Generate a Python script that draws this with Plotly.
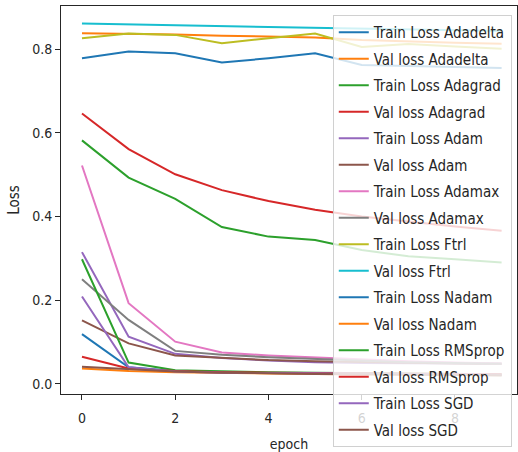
import plotly.graph_objects as go

epochs = list(range(10))

names = [
    "Train Loss Adadelta", "Val loss Adadelta",
    "Train Loss Adagrad", "Val loss Adagrad",
    "Train Loss Adam", "Val loss Adam",
    "Train Loss Adamax", "Val loss Adamax",
    "Train Loss Ftrl", "Val loss Ftrl",
    "Train Loss Nadam", "Val loss Nadam",
    "Train Loss RMSprop", "Val loss RMSprop",
    "Train Loss SGD", "Val loss SGD",
]

train_adadelta = [0.778, 0.794, 0.790, 0.768, 0.778, 0.790, 0.762, 0.760, 0.758, 0.755]
val_adadelta = [0.838, 0.837, 0.835, 0.832, 0.830, 0.828, 0.822, 0.818, 0.815, 0.813]
train_adagrad = [0.582, 0.493, 0.442, 0.375, 0.352, 0.344, 0.320, 0.305, 0.298, 0.290]
val_adagrad = [0.646, 0.561, 0.501, 0.463, 0.437, 0.416, 0.400, 0.388, 0.376, 0.366]
train_adam = [0.315, 0.113, 0.072, 0.062, 0.056, 0.052, 0.050, 0.049, 0.048, 0.048]
val_adam = [0.152, 0.097, 0.068, 0.062, 0.057, 0.054, 0.052, 0.050, 0.049, 0.048]
train_adamax = [0.522, 0.193, 0.101, 0.075, 0.068, 0.063, 0.058, 0.054, 0.051, 0.049]
val_adamax = [0.250, 0.153, 0.079, 0.070, 0.064, 0.060, 0.055, 0.052, 0.050, 0.048]
train_ftrl = [0.826, 0.837, 0.834, 0.814, 0.826, 0.837, 0.805, 0.812, 0.806, 0.801]
val_ftrl = [0.861, 0.859, 0.857, 0.855, 0.853, 0.851, 0.849, 0.847, 0.845, 0.843]
train_nadam = [0.119, 0.040, 0.031, 0.028, 0.026, 0.025, 0.024, 0.023, 0.022, 0.021]
val_nadam = [0.037, 0.031, 0.028, 0.026, 0.025, 0.024, 0.023, 0.022, 0.022, 0.021]
train_rmsprop = [0.298, 0.051, 0.033, 0.030, 0.028, 0.027, 0.026, 0.025, 0.024, 0.023]
val_rmsprop = [0.065, 0.037, 0.031, 0.028, 0.027, 0.026, 0.025, 0.024, 0.023, 0.023]
train_sgd = [0.209, 0.040, 0.030, 0.027, 0.026, 0.025, 0.024, 0.023, 0.022, 0.022]
val_sgd = [0.041, 0.035, 0.030, 0.027, 0.025, 0.024, 0.023, 0.022, 0.022, 0.021]

series = [
    train_adadelta, val_adadelta, train_adagrad, val_adagrad,
    train_adam, val_adam, train_adamax, val_adamax,
    train_ftrl, val_ftrl, train_nadam, val_nadam,
    train_rmsprop, val_rmsprop, train_sgd, val_sgd,
]

tab10 = ["#1f77b4", "#ff7f0e", "#2ca02c", "#d62728", "#9467bd",
         "#8c564b", "#e377c2", "#7f7f7f", "#bcbd22", "#17becf"]

y_ticks = [0.0, 0.2, 0.4, 0.6, 0.8]
x_ticks = [0, 2, 4, 6, 8]

FONT = "DejaVu Sans Condensed, DejaVu Sans"

fig = go.Figure()
for i, (name, vals) in enumerate(zip(names, series)):
    fig.add_trace(go.Scatter(
        x=epochs, y=vals, mode="lines", name=name,
        line=dict(color=tab10[i % 10], width=2),
        legendgroup=f"g{i}",
    ))

axis_common = dict(
    showline=True, linecolor="#262626", linewidth=1, mirror=True,
    ticks="outside", ticklen=5, tickcolor="#262626", tickwidth=1,
    showgrid=False, zeroline=False,
    tickfont=dict(family=FONT, size=14, color="#262626"),
)

fig.update_layout(
    width=518, height=452,
    margin=dict(l=61, r=1, t=6, b=58, autoexpand=False),
    paper_bgcolor="white", plot_bgcolor="white",
    font=dict(family=FONT, size=14, color="#262626"),
    xaxis=dict(range=[-0.45, 9.33], tickvals=x_ticks, ticklabelstandoff=6,
               title=dict(text="epoch", font=dict(family=FONT, size=14), standoff=14),
               **axis_common),
    yaxis=dict(range=[-0.024, 0.903], tickvals=y_ticks, tickformat=".1f",
               title=dict(text="Loss", font=dict(family=FONT, size=15), standoff=8),
               **axis_common),
    showlegend=True,
    legend=dict(
        x=0.596, y=0.977, xanchor="left", yanchor="top",
        bgcolor="rgba(255,255,255,0.8)", bordercolor="#d0d0d0", borderwidth=1,
        font=dict(family=FONT, size=15, color="#262626"),
        traceorder="grouped", tracegroupgap=4, maxheight=500,
    ),
)

fig.write_html("out.html")
